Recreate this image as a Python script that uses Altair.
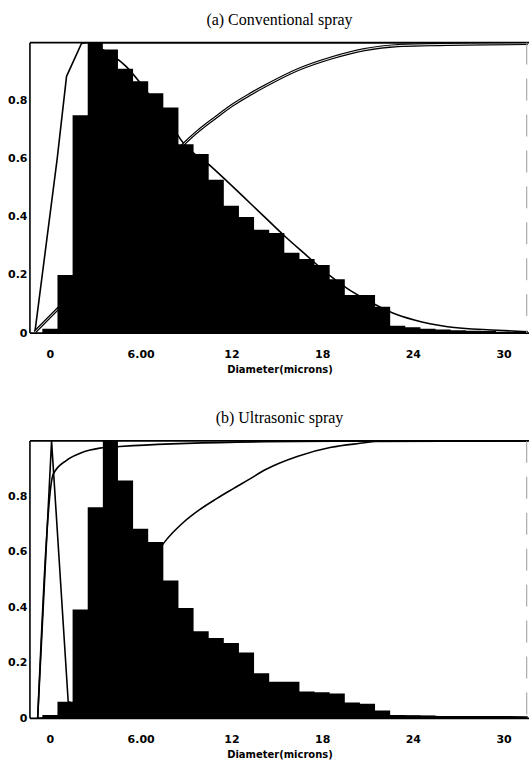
import altair as alt
import pandas as pd

# Histogram bins are 1 micron wide, centred on integer diameters (normalised to peak = 1)
bin_centers = list(range(0, 32))

conv_freq = [0.015, 0.20, 0.75, 1.00, 0.976, 0.91, 0.867, 0.826, 0.777, 0.65,
             0.617, 0.528, 0.438, 0.40, 0.356, 0.345, 0.277, 0.255, 0.234, 0.185,
             0.131, 0.131, 0.091, 0.025, 0.02, 0.015, 0.012, 0.01, 0.008, 0.007,
             0.005, 0.004]

ultra_freq = [0.012, 0.06, 0.392, 0.761, 1.00, 0.857, 0.683, 0.636, 0.497, 0.398,
              0.314, 0.29, 0.272, 0.237, 0.163, 0.132, 0.132, 0.097, 0.094, 0.09,
              0.057, 0.053, 0.028, 0.012, 0.011, 0.01, 0.008, 0.008, 0.007, 0.006,
              0.006, 0.005]

# (a) conventional spray: cumulative number, cumulative volume, fitted distribution
conv_cumnum_x = [-0.99, 0.48, 1.10, 2.09, 2.42, 31.6]
conv_cumnum_y = [0.004, 0.60, 0.884, 0.997, 1.0, 1.0]

conv_cumvol_x = [-0.99, 0.55, 2.0, 4.0, 6.0, 8.0, 8.8, 9.9, 11.0, 12.1, 13.2,
                 14.2, 16.4, 18.6, 20.8, 23.0, 25.2, 31.6]
conv_cumvol_y = [0.004, 0.085, 0.16, 0.33, 0.47, 0.60, 0.648, 0.70, 0.744, 0.786,
                 0.821, 0.85, 0.907, 0.947, 0.976, 0.99, 0.993, 0.997]

conv_fit_x = [3.0, 5.0, 7.0, 8.0, 8.65, 10.67, 14.19, 15.5, 16.8, 18.6, 19.7,
              20.8, 22.55, 24.1, 26.3, 29.6, 31.6]
conv_fit_y = [0.99, 0.92, 0.79, 0.72, 0.666, 0.573, 0.40, 0.335, 0.275, 0.194,
              0.152, 0.118, 0.072, 0.045, 0.022, 0.010, 0.004]

# (b) ultrasonic spray: number frequency, cumulative number, cumulative volume
ultra_freqline_x = [-0.81, 0.11, 1.21, 3.0, 6.0, 10.0, 16.0, 22.0, 26.0, 31.6]
ultra_freqline_y = [0.0, 1.0, 0.06, 0.03, 0.02, 0.015, 0.01, 0.008, 0.006, 0.005]

ultra_cumnum_x = [-0.81, 0.22, 1.10, 2.2, 3.3, 4.62, 5.5, 14.2, 20.0, 31.6]
ultra_cumnum_y = [0.0, 0.88, 0.93, 0.96, 0.974, 0.98, 0.983, 0.997, 0.999, 1.0]

ultra_cumvol_x = [-0.81, 1.0, 2.0, 3.0, 4.0, 5.0, 6.0, 7.0, 7.59, 8.8, 9.9, 11.0,
                  12.1, 13.2, 14.2, 16.4, 18.6, 20.8, 21.5, 31.6]
ultra_cumvol_y = [0.0, 0.01, 0.05, 0.15, 0.28, 0.40, 0.50, 0.59, 0.636, 0.705,
                  0.752, 0.791, 0.827, 0.862, 0.895, 0.945, 0.977, 0.993, 0.998, 1.0]

X_MIN, X_MAX = -1.32, 31.68
X_TICKS = [0, 6, 12, 18, 24, 30]
Y_TICKS = [0, 0.2, 0.4, 0.6, 0.8]

LABEL_FONT = "DejaVu Sans"

x_scale = alt.Scale(domain=[X_MIN, X_MAX], nice=False, zero=False)
y_scale = alt.Scale(domain=[0, 1], nice=False)

x_axis = alt.Axis(
    values=X_TICKS,
    labelExpr="datum.value == 6 ? '6.00' : toString(datum.value)",
    title="Diameter(microns)",
    ticks=False, domain=False, grid=False,
    labelPadding=15, titlePadding=5,
    labelFont=LABEL_FONT, labelFontSize=11, labelFontWeight="bold",
    titleFont=LABEL_FONT, titleFontSize=10, titleFontWeight="bold",
    labelColor="black", titleColor="black",
)
y_axis = alt.Axis(
    values=Y_TICKS,
    labelExpr="datum.value == 0 ? '0' : format(datum.value, '.1f')",
    title=None, ticks=False, domain=False, grid=False,
    labelPadding=3, minExtent=30, maxExtent=30,
    labelFont=LABEL_FONT, labelFontSize=11, labelFontWeight="bold",
    labelColor="black",
)


def curve_frame(xs, ys):
    return pd.DataFrame({"d": xs, "v": ys, "i": range(len(xs))})


def line_layer(df, width=1.6, color="black", interp="linear"):
    return alt.Chart(df).mark_line(
        color=color, strokeWidth=width, clip=True, interpolate=interp
    ).encode(
        x=alt.X("d:Q", scale=x_scale, axis=x_axis),
        y=alt.Y("v:Q", scale=y_scale, axis=y_axis),
        order="i:Q",
    )


def rule(color="black", width=1.6, dash=None, **enc):
    kw = {"color": color, "strokeWidth": width}
    if dash:
        kw["strokeDash"] = dash
    return alt.Chart().mark_rule(**kw).encode(**enc)


def panel(title, freq, curves, double_curve, height):
    # histogram as one stepped area over the bin edges
    edges = [c - 0.5 for c in bin_centers] + [bin_centers[-1] + 0.5]
    hist = pd.DataFrame({"e": edges, "f": list(freq) + [freq[-1]]})
    layers = [line_layer(curve_frame(xs, ys), interp=ip) for xs, ys, ip in curves]
    if double_curve is not None:
        dc = curve_frame(*double_curve)
        layers.append(line_layer(dc, width=3.2, interp="monotone"))
        layers.append(line_layer(dc, width=0.9, color="white", interp="monotone"))
    bars = alt.Chart(hist).mark_area(
        color="black", interpolate="step-after", clip=True, opacity=1
    ).encode(
        x=alt.X("e:Q", scale=x_scale, axis=x_axis),
        y=alt.Y("f:Q", scale=y_scale, axis=y_axis),
    )
    layers.append(bars)
    # plot frame: left, top and baseline in black, faint right edge
    layers += [
        rule(x=alt.XDatum(X_MIN, scale=x_scale, axis=x_axis)),
        rule(y=alt.YDatum(1.0, scale=y_scale, axis=y_axis)),
        rule(y=alt.YDatum(0.0, scale=y_scale, axis=y_axis)),
        rule(color="#9a9a9a", width=1, dash=[22, 14],
             x=alt.XDatum(X_MAX - 0.15, scale=x_scale, axis=x_axis)),
    ]
    return alt.layer(*layers).properties(
        width=500, height=height,
        title=alt.TitleParams(title, font="Liberation Serif", fontSize=16,
                              fontWeight="normal", color="black", offset=14,
                              anchor="middle"),
    )


top = panel(
    "(a) Conventional spray", conv_freq,
    [(conv_cumnum_x, conv_cumnum_y, "linear"),
     (conv_fit_x, conv_fit_y, "monotone")],
    (conv_cumvol_x, conv_cumvol_y), 291,
)
bottom = panel(
    "(b) Ultrasonic spray", ultra_freq,
    [(ultra_cumnum_x, ultra_cumnum_y, "monotone"),
     (ultra_freqline_x, ultra_freqline_y, "linear"),
     (ultra_cumvol_x, ultra_cumvol_y, "monotone")],
    None, 278,
)

chart = alt.vconcat(top, bottom, spacing=36).properties(
    padding={"left": 0, "right": 0, "top": 11, "bottom": 0},
    background="white",
).configure_view(stroke=None)

chart.save("out.html", embed_options={"renderer": "svg", "actions": False})
